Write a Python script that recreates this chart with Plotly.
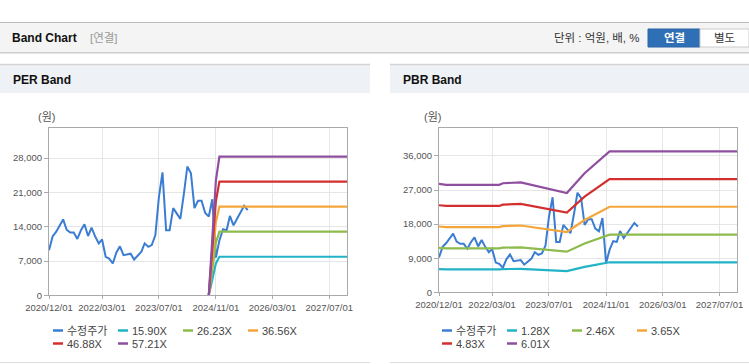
import plotly.graph_objects as go

# ---------------- data ----------------
price_dates = (
    ["2020-12"]
    + ["2021-%02d" % m for m in range(1, 13)]
    + ["2022-%02d" % m for m in range(1, 13)]
    + ["2023-%02d" % m for m in range(1, 13)]
    + ["2024-%02d" % m for m in range(1, 13)]
    + ["2025-%02d" % m for m in range(1, 9)]
)
price = [
    9200,
    12000, 13000, 14300, 15500, 13400, 12800, 12800, 11500, 13300, 14500, 12100, 13800,
    12000, 10600, 11400, 7850, 7500, 6500, 8700, 10000, 8200, 8300, 8500, 7300,
    8000, 8900, 10600, 9900, 10250, 12300, 20000, 25100, 13300, 13300, 17800, 16600,
    15600, 20800, 26300, 24900, 17800, 19300, 19300, 16800, 16100, 19600, 7700, 11200,
    13500, 13300, 16200, 14300, 15700, 17200, 18300, 17400,
]

# PER band: EPS base (원) and multiples
eps_dates = ["2024-09-01", "2024-10-01", "2024-11-01", "2024-12-01", "2027-12-31"]
eps = [0, 200, 410, 495, 495]
per_mult = [15.90, 26.23, 36.56, 46.88, 57.21]
per_labels = ["15.90X", "26.23X", "36.56X", "46.88X", "57.21X"]

# PBR band: BPS base (원) and multiples
bps_dates = ["2020-12-01", "2021-02-01", "2022-05-01", "2022-06-01", "2022-11-01",
             "2023-01-01", "2023-07-01", "2023-12-01", "2024-05-01", "2024-12-01", "2027-12-31"]
bps = [4760, 4720, 4720, 4790, 4830, 4760, 4560, 4360, 5230, 6190, 6190]
pbr_mult = [1.28, 2.46, 3.65, 4.83, 6.01]
pbr_labels = ["1.28X", "2.46X", "3.65X", "4.83X", "6.01X"]

price_name = "수정주가"
price_color = "#3b7dd3"
band_colors = ["#22b3c7", "#8dbb4c", "#f4a63a", "#d42f2f", "#8f4f9f"]

x_tickvals = ["2020-12-01", "2022-03-01", "2023-07-01", "2024-11-01", "2026-03-01", "2027-07-01"]
x_ticktext = ["2020/12/01", "2022/03/01", "2023/07/01", "2024/11/01", "2026/03/01", "2027/07/01"]
per_yticks = [0, 7000, 14000, 21000, 28000]
pbr_yticks = [0, 9000, 18000, 27000, 36000]

# ---------------- figure ----------------
W, H = 749, 364
def px(x):
    return x / W
def py(y):
    return 1 - y / H

FONT = "Liberation Sans, Arial, Noto Sans CJK KR, sans-serif"
fig = go.Figure()

# PER chart
fig.add_trace(go.Scatter(x=price_dates, y=price, mode="lines", name=price_name,
                         line=dict(color=price_color, width=2), xaxis="x", yaxis="y"))
for m, lab, c in zip(per_mult, per_labels, band_colors):
    fig.add_trace(go.Scatter(x=eps_dates, y=[m * v for v in eps], mode="lines", name=lab,
                             line=dict(color=c, width=2.2), xaxis="x", yaxis="y"))
# PBR chart
fig.add_trace(go.Scatter(x=price_dates, y=price, mode="lines", name=price_name,
                         line=dict(color=price_color, width=2), xaxis="x2", yaxis="y2"))
for m, lab, c in zip(pbr_mult, pbr_labels, band_colors):
    fig.add_trace(go.Scatter(x=bps_dates, y=[m * v for v in bps], mode="lines", name=lab,
                             line=dict(color=c, width=2.2), xaxis="x2", yaxis="y2"))

axis_common = dict(showgrid=True, gridcolor="#e6e6e6", gridwidth=1, showline=True,
                   linecolor="#aaaaaa", linewidth=1, mirror=True, zeroline=False,
                   ticks="outside", tickcolor="#aaaaaa", automargin=False,
                   tickfont=dict(family=FONT, size=9.5, color="#555555"))
xcommon = dict(axis_common, type="date", range=["2020-12-01", "2027-11-30"],
               tickvals=x_tickvals, ticktext=x_ticktext, ticklen=3)

shapes = []
annotations = []

def rect(x0, y0, x1, y1, fill, line=None):
    shapes.append(dict(type="rect", xref="paper", yref="paper", x0=px(x0), x1=px(x1),
                       y0=py(y1), y1=py(y0), fillcolor=fill, layer="below",
                       line=dict(width=0) if line is None else line))

def hline(x0, x1, y, color, width=1):
    shapes.append(dict(type="line", xref="paper", yref="paper", x0=px(x0), x1=px(x1),
                       y0=py(y), y1=py(y), line=dict(color=color, width=width), layer="below"))

def text(x, y, s, size, color, bold=False, xanchor="left"):
    annotations.append(dict(xref="paper", yref="paper", x=px(x), y=py(y), text=("<b>%s</b>" % s) if bold else s,
                            showarrow=False, xanchor=xanchor, yanchor="middle",
                            font=dict(family=FONT, size=size, color=color)))

# top header bar
rect(0, 22, 749, 52, "#f4f4f4")
hline(0, 749, 22.5, "#bdbdbd", 1)
hline(0, 749, 52.5, "#cfcfcf", 1)
hline(0, 749, 53.5, "#e6e6e6", 1)
text(10, 38, "Band Chart", 12, "#111111", bold=True)
text(88, 38, "[연결]", 11.5, "#999999")
text(642, 38, "단위 : 억원, 배, %", 11.5, "#333333", xanchor="right")
shapes.append(dict(type="rect", xref="paper", yref="paper", x0=px(648), x1=px(700),
                   y0=py(47), y1=py(29), fillcolor="#2f6fb5", line=dict(color="#2a64a5", width=1)))
shapes.append(dict(type="rect", xref="paper", yref="paper", x0=px(700), x1=px(749),
                   y0=py(47), y1=py(29), fillcolor="#ffffff", line=dict(color="#cccccc", width=1)))
text(674, 38.5, "연결", 11.5, "#ffffff", bold=True, xanchor="center")
text(724, 38.5, "별도", 11.5, "#333333", xanchor="center")

# panel headers
for (a, b, title) in [(0, 370, "PER Band"), (390, 749, "PBR Band")]:
    rect(a, 64, b, 93, "#eef1f6")
    hline(a, b, 64.5, "#d3d3d3", 1.5)
    hline(a, b, 362.5, "#dddddd", 1)
    text(a + 11, 79.5, title, 12, "#111111", bold=True)

text(36, 117.5, "(원)", 11, "#555555")
text(422, 117.5, "(원)", 11, "#555555")

# custom legends
def legend(x_left, names, colors):
    for i, (n, c) in enumerate(zip(names, colors)):
        col, row = i % 4, i // 4
        x0 = x_left + col * 65
        y = 330.5 + row * 13
        shapes.append(dict(type="line", xref="paper", yref="paper", x0=px(x0), x1=px(x0 + 10),
                           y0=py(y), y1=py(y), line=dict(color=c, width=2.5)))
        text(x0 + 12, y, n, 11, "#444444")

legend(53, [price_name] + per_labels, [price_color] + band_colors)
legend(442, [price_name] + pbr_labels, [price_color] + band_colors)

fig.update_layout(
    width=W, height=H, margin=dict(l=0, r=0, t=0, b=0, autoexpand=False),
    paper_bgcolor="white", plot_bgcolor="white", showlegend=False,
    font=dict(family=FONT),
    xaxis=dict(xcommon, domain=[px(49), px(347)], anchor="y"),
    yaxis=dict(axis_common, domain=[py(295.3), py(128.3)], range=[0, 34100],
               tickvals=per_yticks, tickformat=",d", ticklen=4, anchor="x"),
    xaxis2=dict(xcommon, domain=[px(439), px(737.3)], anchor="y2"),
    yaxis2=dict(axis_common, domain=[py(292.3), py(128.3)], range=[0, 43300],
                tickvals=pbr_yticks, tickformat=",d", ticklen=4, anchor="x2"),
    shapes=shapes, annotations=annotations,
)

fig.write_html("out.html", config={"displayModeBar": False},
               post_script="document.body.style.margin='0';document.body.style.overflow='hidden';")
